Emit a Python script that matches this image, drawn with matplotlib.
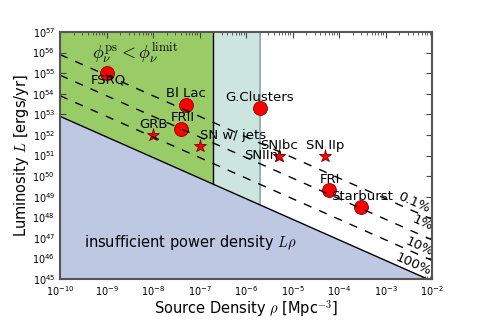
import numpy as np
import matplotlib
matplotlib.use('Agg')
import matplotlib.pyplot as plt
from matplotlib.ticker import LogLocator, NullLocator

plt.rcParams['mathtext.fontset'] = 'cm'

# sources drawn as circles
circle_names = ['FSRQ', 'Bl Lac', 'FRII', 'G.Clusters', 'FRI', 'Starburst']
circle_rho = [1e-9, 5e-8, 4e-8, 2e-6, 6e-5, 3e-4]
circle_L = [1e55, 3e53, 2e52, 2e53, 2e49, 3e48]

# sources drawn as stars
star_names = ['GRB', 'SN w/ jets', 'SNIbc', 'SNIIn', 'SN IIp']
star_rho = [1e-8, 1e-7, 5e-6, 5e-6, 5e-5]
star_L = [1e52, 3e51, 1e51, 1e51, 1e51]

# power density limit L*rho and fractions of it
power_limit = 8e42
fractions = [1.0, 0.1, 0.01, 0.001]
fraction_labels = ['100%', '10%', '1%', '0.1%']

# density ranges of the shaded bands
green_max = 2e-7
teal_max = 2e-6

# label positions (log10 rho, log10 L, ha)
label_pos = {
    'FSRQ': (-8.97, 54.67, 'center'),
    'Bl Lac': (-7.29, 54.0, 'center'),
    'FRII': (-7.35, 52.83, 'center'),
    'G.Clusters': (-5.7, 53.84, 'center'),
    'FRI': (-4.19, 49.82, 'center'),
    'Starburst': (-3.51, 49.0, 'center'),
    'GRB': (-8.0, 52.53, 'center'),
    'SN w/ jets': (-7.0, 51.95, 'left'),
    'SNIbc': (-5.29, 51.51, 'center'),
    'SNIIn': (-5.68, 50.98, 'center'),
    'SN IIp': (-4.30, 51.51, 'center'),
}
frac_pos = {
    '0.1%': (-2.38, 48.7),
    '1%': (-2.2, 47.73),
    '10%': (-2.28, 46.56),
    '100%': (-2.4, 45.69),
}

xmin, xmax = 1e-10, 1e-2
ymin, ymax = 1e45, 1e57

fig = plt.figure(figsize=(4.8, 3.2), dpi=100)
ax = fig.add_axes([0.125, 0.128, 0.775, 0.772])
ax.set_xscale('log')
ax.set_yscale('log')

rho = np.logspace(-10, -2, 400)
limit = power_limit / rho

# shaded bands above the limit
m = rho <= green_max
ax.fill_between(rho[m], limit[m], ymax, color='#99cc66', lw=0, zorder=1)
band = np.logspace(np.log10(green_max), np.log10(teal_max), 50)
ax.fill_between(band, power_limit / band, ymax, color='#cce6df', lw=0, zorder=1)
ax.fill_between(rho, ymin, limit, color='#bfc8e3', lw=0, zorder=2)
ax.plot([green_max, green_max], [power_limit / green_max, ymax], color='k', lw=1, zorder=3)
ax.plot([teal_max, teal_max], [power_limit / teal_max, ymax], color='#8fa8a4', lw=1.2, zorder=3)

# markers
ax.plot(circle_rho, circle_L, 'o', color='red', mec='#800000', mew=0.6, ms=10, zorder=4)
ax.plot(star_rho, star_L, '*', color='red', mec='#800000', mew=0.6, ms=9.5, zorder=4)

# limit lines
for f in fractions:
    ls = '-' if f == 1.0 else (0, (6, 6))
    ax.plot(rho, limit / f, color='k', lw=1, ls=ls, zorder=5)

for name in circle_names + star_names:
    lx, ly, ha = label_pos[name]
    ax.text(10 ** lx, 10 ** ly, name, ha=ha, va='center', fontsize=9.5, zorder=6)

for lab in fraction_labels:
    lx, ly = frac_pos[lab]
    ax.text(10 ** lx, 10 ** ly, lab, ha='center', va='center', fontsize=9.5,
            rotation=-24, zorder=6)

ax.text(10 ** -8.39, 10 ** 56.0, r'$\phi_\nu^{\rm ps} < \phi_\nu^{\rm limit}$',
        ha='center', va='center', fontsize=13, zorder=6)
ax.text(10 ** -9.48, 10 ** 46.76, r'insufficient power density $L\rho$',
        ha='left', va='center', fontsize=10.5, zorder=6)

ax.set_xlim(xmin, xmax)
ax.set_ylim(ymin, ymax)
ax.xaxis.set_major_locator(LogLocator(base=10, numticks=20))
ax.yaxis.set_major_locator(LogLocator(base=10, numticks=20))
ax.yaxis.set_minor_locator(NullLocator())
ax.tick_params(which='both', direction='in', top=True, right=True, labelsize=7,
               color='#444444')
ax.tick_params(which='major', length=4)
ax.tick_params(which='minor', length=2)
for s in ax.spines.values():
    s.set_color('#555555')
    s.set_linewidth(1.5)
    s.set_zorder(7)

ax.set_xlabel(r'Source Density $\rho$ [Mpc$^{-3}$]', fontsize=10.5, labelpad=0)
ax.set_ylabel(r'Luminosity $L$ [ergs/yr]', fontsize=10.5, labelpad=1)

fig.savefig('out.png', dpi=100)
